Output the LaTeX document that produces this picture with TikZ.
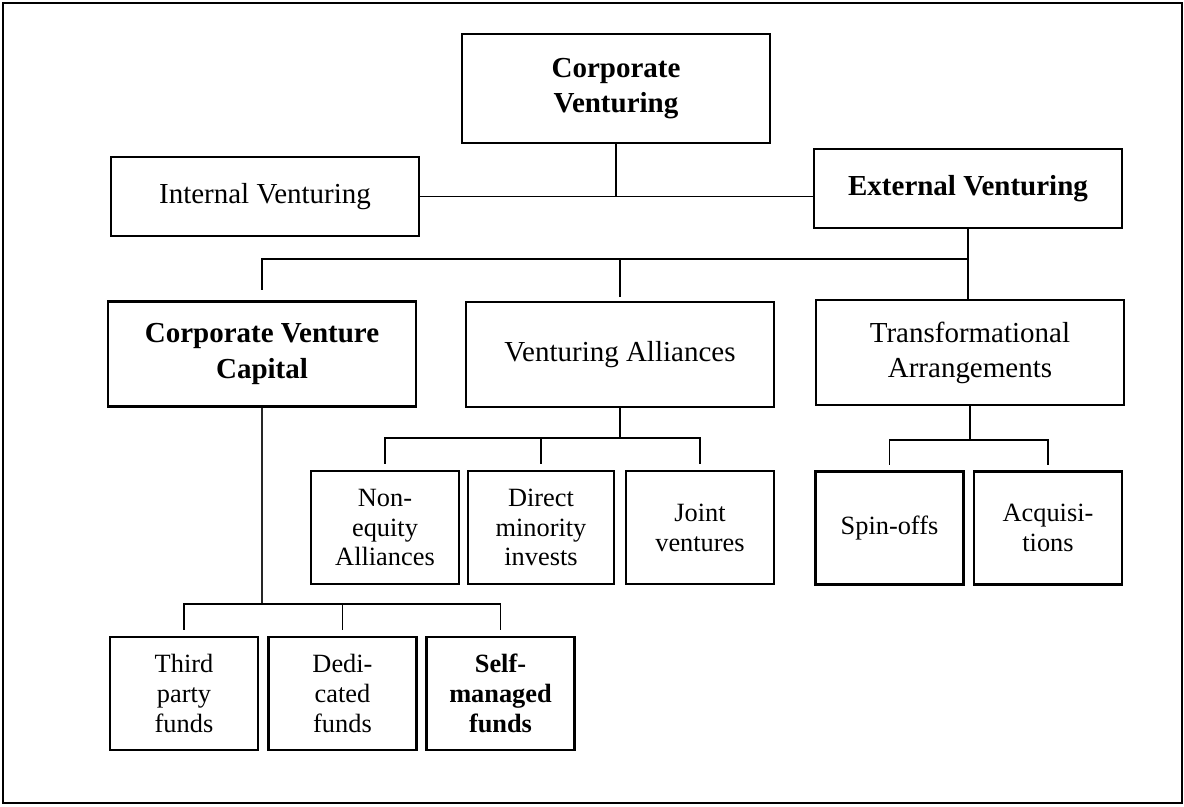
\documentclass[tikz,border=0pt]{standalone}
\usepackage{fontspec}
\setmainfont{Liberation Serif}
\usepackage{tikz}
\usetikzlibrary{positioning, calc}

\begin{document}
\begin{tikzpicture}[
  x=0.02cm, y=-0.02cm,
  bigbox/.style={draw, line width=1.5pt, minimum width=6.16cm, inner sep=0pt, align=center, font=\fontsize{16.5}{20}\selectfont},
  smallbox/.style={draw, line width=1.5pt, minimum width=2.96cm, minimum height=2.26cm, inner sep=0pt, align=center, font=\fontsize{15}{17}\selectfont},
  boldtext/.style={font=\fontsize{16.5}{20}\selectfont\bfseries},
  link/.style={line width=1.1pt},
  thinlink/.style={line width=0.6pt, black!85},
  frame/.style={line width=1.4pt}
]
\useasboundingbox (0,0) rectangle (1184,806);
\draw[frame] (3,3) rectangle (1182,803);
\node[bigbox, boldtext, minimum height=2.18cm] (corpv) at (616,88.5) {Corporate\\Venturing};
\node[bigbox, minimum height=1.58cm] (intv) at (265,196.5) {Internal Venturing};
\node[bigbox, boldtext, minimum height=1.58cm] (extv) at (968,188.5) {External Venturing};
\node[bigbox, boldtext, minimum height=2.1cm] (cvc) at (262,354) {Corporate Venture\\Capital};
\node[bigbox, minimum height=2.1cm] (valli) at (620,354.5) {Venturing Alliances};
\node[bigbox, minimum height=2.1cm] (trans) at (970,352.5) {Transformational\\Arrangements};
\node[smallbox] (noneq) at (385,527.5) {Non-\\equity\\Alliances};
\node[smallbox, minimum width=2.92cm] (direct) at (541,527.5) {Direct\\minority\\invests};
\node[smallbox] (joint) at (700,527.5) {Joint\\ventures};
\node[smallbox] (spin) at (889.5,528) {Spin-offs};
\node[smallbox] (acq) at (1048,528) {Acquisi-\\tions};
\node[smallbox] (third) at (184,693.5) {Third\\party\\funds};
\node[smallbox] (dedic) at (342.5,693.5) {Dedi-\\cated\\funds};
\node[smallbox, font=\fontsize{15}{17}\selectfont\bfseries] (selfm) at (500.5,693.5) {Self-\\managed\\funds};
\coordinate (busB) at (968,259);
\draw[link] (intv.east) -- (intv.east -| extv.west);
\draw[link] (corpv.south) -- (corpv.south |- intv.east);
\draw[link] (extv.south) -- (extv.south |- trans.north);
\draw[link, shorten <=6pt] (cvc.north) |- (busB);
\draw[link, shorten <=2pt] (valli.north) -- (valli.north |- busB);
\draw[link, shorten >=3.5pt] (valli.south) -- ++(0,30) -| (noneq.north);
\draw[link, shorten >=3.5pt] (valli.south) -- ++(0,30) -| (direct.north);
\draw[link, shorten >=3.5pt] (valli.south) -- ++(0,30) -| (joint.north);
\draw[link, shorten >=3pt] (trans.south) -- ++(0,34) -| (spin.north);
\draw[link, shorten >=3pt] (trans.south) -- ++(0,34) -| (acq.north);
\draw[thinlink] (cvc.south) -- ++(0,196) coordinate (busD);
\draw[link, shorten >=3pt] (busD) -| (third.north);
\draw[link, shorten >=3pt] (busD) -| (dedic.north);
\draw[link, shorten >=3pt] (busD) -| (selfm.north);
\end{tikzpicture}
\end{document}
